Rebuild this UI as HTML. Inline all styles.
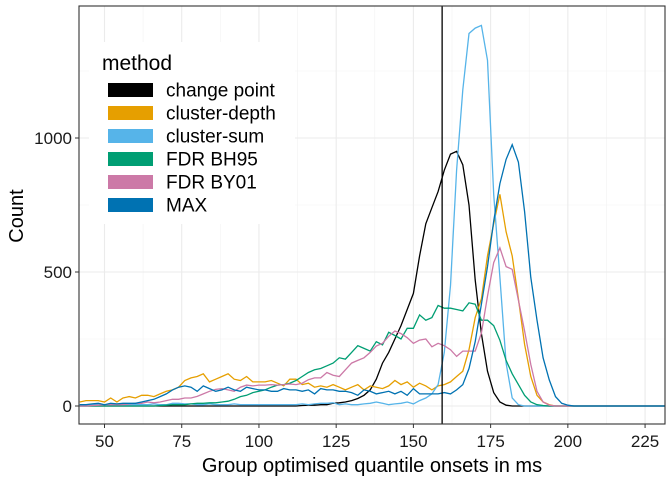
<!DOCTYPE html>
<html><head><meta charset="utf-8"><style>
body{margin:0;background:#fff}
svg{display:block;font-family:"Liberation Sans",Arial,sans-serif}
</style></head><body>
<svg id="chart" width="672" height="480">
<rect x="0" y="0" width="672" height="480" fill="#fff"/>
<g id="grid"></g>
<g id="series"></g>
<g id="axes"></g>
<text x="372" y="472" font-size="20" text-anchor="middle" fill="#000">Group optimised quantile onsets in ms</text>
<text transform="translate(23,216) rotate(-90)" font-size="20" text-anchor="middle" fill="#000">Count</text>
<g id="legend">
<rect x="89" y="42" width="206" height="182" fill="#fff"/>
<text x="102" y="70" font-size="21" fill="#000">method</text>
</g>
</svg>
<script>
const xs = [];
for (let v = 42; v <= 234; v += 2) xs.push(v);
const seriesNames = ["change point","cluster-depth","cluster-sum","FDR BH95","FDR BY01","MAX"];
const seriesColors = ["#000000","#E69F00","#56B4E9","#009E73","#CC79A7","#0072B2"];
const changePoint = [0,0,0,0,0,0,0,0,0,0, 0,0,0,0,0,0,0,0,0,0, 0,0,0,0,0,0,0,0,0,0, 0,0,0,0,0,0,2,3,3,5,
 5,10,12,15,20,28,40,60,100,160, 200,250,300,360,420,560,680,740,800,880, 940,950,900,750,470,270,130,50,15,3,
 0,0,0,0,0,0,0,0,0,0, 0,0,0,0,0,0,0,0,0,0, 0,0,0,0,0,0,0];
const clusterDepth = [15,20,20,20,15,30,15,30,35,30, 40,40,35,45,55,60,70,95,105,110, 120,90,100,110,120,100,95,110,90,90,
 90,95,85,75,100,100,80,85,70,75, 70,80,70,60,70,80,60,75,70,65, 75,95,80,90,70,85,75,60,75,80,
 90,110,130,210,330,400,560,680,790,650, 560,400,230,110,40,15,5,0,0,0, 0,0,0,0,0,0,0,0,0,0, 0,0,0,0,0,0,0];
const clusterSum = [5,5,5,5,5,5,5,5,5,5, 5,5,8,5,5,10,10,8,8,5, 5,8,5,5,5,8,5,5,5,5, 5,5,5,5,5,5,8,5,8,10,
 10,12,5,8,5,5,8,10,15,10, 5,8,10,15,8,20,30,45,80,200, 450,880,1180,1390,1410,1420,1290,790,480,160,
 30,5,0,0,0,0,0,0,0,0, 0,0,0,0,0,0,0,0,0,0, 0,0,0,0,0,0,0];
const fdrBH95 = [0,0,0,0,0,0,0,0,0,0, 0,0,0,2,3,5,5,5,8,10, 10,12,12,15,18,25,35,40,50,55, 60,70,78,80,85,95,110,125,135,140,
 150,160,180,175,200,225,215,205,240,228, 275,263,250,290,290,340,320,330,375,365, 365,360,355,385,380,320,320,300,245,170,
 120,80,40,15,5,2,0,0,0,0, 0,0,0,0,0,0,0,0,0,0, 0,0,0,0,0,0,0];
const fdrBY01 = [0,0,2,3,5,5,5,5,8,10, 10,15,12,15,20,25,25,30,30,36, 45,55,62,65,60,55,70,78,75,78, 78,80,78,80,82,80,85,98,105,105,
 125,115,110,135,160,170,180,200,224,234, 260,280,270,255,234,246,250,221,234,225, 210,185,205,205,205,272,410,535,590,520,
 510,395,280,155,55,15,3,0,0,0, 0,0,0,0,0,0,0,0,0,0, 0,0,0,0,0,0,0];
const maxCorr = [5,5,8,10,5,10,8,10,10,10, 15,20,25,35,45,60,70,75,70,55, 75,65,55,60,70,60,55,70,65,60, 60,55,55,65,60,60,55,60,45,65,
 60,60,55,55,50,40,60,55,45,50, 55,45,55,40,65,45,45,45,45,50, 45,60,80,140,240,380,520,690,830,920,
 975,910,725,480,320,180,97,35,10,3, 0,0,0,0,0,0,0,0,0,0, 0,0,0,0,0,0,0];
const xTicks = [50,75,100,125,150,175,200,225];
const yTicks = [0,500,1000];
const refLine = 159.3;

const NS = "http://www.w3.org/2000/svg";
const P = {l:79, r:665, t:6, b:424};
const X = v => 104.5 + (v - 50) * 3.089;
const Y = c => 406 - c * 0.268;
function mk(tag, attrs, parent){const e=document.createElementNS(NS,tag);for(const k in attrs)e.setAttribute(k,attrs[k]);parent.appendChild(e);return e;}
const grid=document.getElementById('grid'), ser=document.getElementById('series'), axes=document.getElementById('axes'), leg=document.getElementById('legend');
for(let i=0;i<xTicks.length+1;i++){const v=xTicks[0]-12.5+25*i;const x=X(v);if(x>P.l&&x<P.r){const g=mk('line',{x1:x,x2:x,y1:P.t,y2:P.b,stroke:'#f2f2f2','stroke-width':0.6},grid);

}}
for(const c of [250,750,1250]){const g=mk('line',{x1:P.l,x2:P.r,y1:Y(c),y2:Y(c),stroke:'#f2f2f2','stroke-width':0.6},grid);

}
for(const v of xTicks){const g=mk('line',{x1:X(v),x2:X(v),y1:P.t,y2:P.b,stroke:'#ebebeb','stroke-width':1.1},grid);


const t=mk('line',{x1:X(v),x2:X(v),y1:P.b,y2:P.b+4,stroke:'#333','stroke-width':1},axes);


const l=mk('text',{x:X(v),y:P.b+23,'font-size':17,'text-anchor':'middle',fill:'#1a1a1a'},axes);l.textContent=v;

}
for(const c of yTicks){const g=mk('line',{x1:P.l,x2:P.r,y1:Y(c),y2:Y(c),stroke:'#ebebeb','stroke-width':1.1},grid);


const t=mk('line',{x1:P.l-4,x2:P.l,y1:Y(c),y2:Y(c),stroke:'#333','stroke-width':1},axes);


const l=mk('text',{x:P.l-7,y:Y(c)+6,'font-size':17,'text-anchor':'end',fill:'#1a1a1a'},axes);l.textContent=c;

}
const seriesData=[changePoint,clusterDepth,clusterSum,fdrBH95,fdrBY01,maxCorr];
const clip=mk('clipPath',{id:'pc'},ser);mk('rect',{x:P.l,y:P.t,width:P.r-P.l,height:P.b-P.t},clip);
for(const si of [0,1,2,3,4,5]){const d=seriesData[si];const pts=d.map((c,i)=>X(xs[i]).toFixed(1)+','+Y(c).toFixed(1)).join(' ');
const pl=mk('polyline',{points:pts,fill:'none',stroke:seriesColors[si],'stroke-width':1.3,'clip-path':'url(#pc)'},ser);

}
const rl=mk('line',{x1:X(refLine),x2:X(refLine),y1:P.t,y2:P.b,stroke:'#000','stroke-width':1.3},ser);


const border=mk('rect',{x:P.l,y:P.t,width:P.r-P.l,height:P.b-P.t,fill:'none',stroke:'#333','stroke-width':1.1},axes);


seriesNames.forEach((n,i)=>{const y=90+i*23;
const k=mk('rect',{x:108,y:y-7,width:45,height:14,fill:seriesColors[i]},leg);


const t=mk('text',{x:166,y:y+6.5,'font-size':19,fill:'#000'},leg);t.textContent=n;

});
</script>
</body></html>
